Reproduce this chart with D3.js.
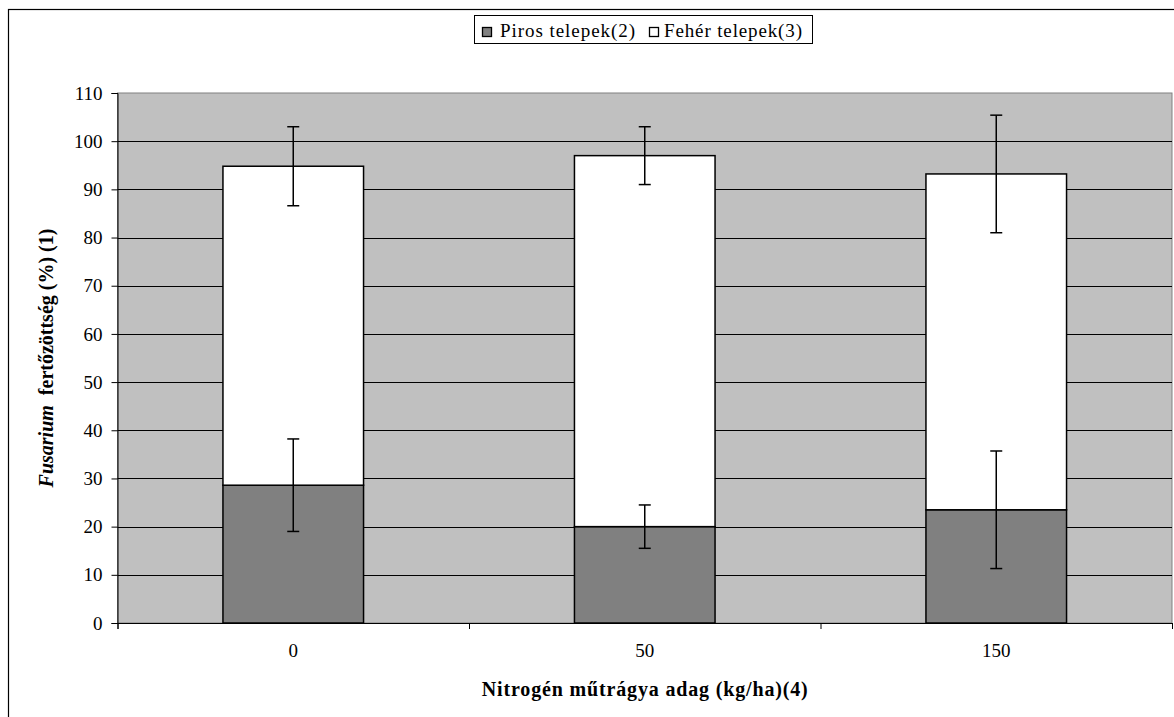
<!DOCTYPE html>
<html><head><meta charset="utf-8">
<script src="https://cdn.jsdelivr.net/npm/d3@7"></script>
<style>
body{margin:0;background:#fff;}
svg text{font-family:'Liberation Serif','Times New Roman',Tinos,'DejaVu Serif',serif !important;fill:#000;}
</style></head>
<body><svg id="c" width="1174" height="717"></svg>
<script>
const categories = ["0","50","150"];
const pirosValues = [28.6, 20.0, 23.5];
const feherValues = [66.2, 77.0, 69.7];
const pirosErrors = [9.6, 4.5, 12.2];
const feherErrors = [8.2, 6.0, 12.2];
const yTicks = [0,10,20,30,40,50,60,70,80,90,100,110];
const seriesNames = ["Piros telepek(2)", "Fehér telepek(3)"];
const seriesColors = ["#808080", "#ffffff"];

const FONT = "'Liberation Serif','Times New Roman',Tinos,'DejaVu Serif',serif";
const svg = d3.select("#c");
const L = 117.5, R = 1172, T = 93, B = 623;

// outer frame
svg.append("rect").attr("x",8.5).attr("y",9.5).attr("width",1200).attr("height",760)
  .attr("fill","#fff").attr("stroke","#000").attr("stroke-width",1.2);

const x = d3.scaleBand().domain(categories).range([L,R]).padding(0);
const y = d3.scaleLinear().domain([0,110]).range([B,T]);

// plot background
svg.append("rect").attr("x",L).attr("y",T).attr("width",R-L).attr("height",B-T)
  .attr("fill","#c0c0c0").attr("stroke","#808080").attr("stroke-width",1);

// gridlines
svg.append("g").selectAll("line").data(yTicks.filter(d=>d>0 && d<110)).join("line")
  .attr("x1",L).attr("x2",R).attr("y1",d=>Math.round(y(d))+0.5).attr("y2",d=>Math.round(y(d))+0.5)
  .attr("stroke","#000").attr("stroke-width",1);

// stacked bars
const bw = x.bandwidth()*0.4;
const stacks = categories.map((c,i)=>({c, p:pirosValues[i], f:feherValues[i], pe:pirosErrors[i], fe:feherErrors[i]}));
const g = svg.append("g");
stacks.forEach(d=>{
  const x0 = x(d.c) + (x.bandwidth()-bw)/2;
  g.append("rect").attr("x",x0).attr("width",bw)
    .attr("y",y(d.p)).attr("height",y(0)-y(d.p))
    .attr("fill",seriesColors[0]).attr("stroke","#000").attr("stroke-width",1.5);
  g.append("rect").attr("x",x0).attr("width",bw)
    .attr("y",y(d.p+d.f)).attr("height",y(d.p)-y(d.p+d.f))
    .attr("fill",seriesColors[1]).attr("stroke","#000").attr("stroke-width",1.5);
});

// error bars
function errBar(cx, v, e){
  const cap = 6;
  const eg = svg.append("g").attr("stroke","#000").attr("stroke-width",1.5);
  eg.append("line").attr("x1",cx).attr("x2",cx).attr("y1",y(v+e)).attr("y2",y(v-e));
  eg.append("line").attr("x1",cx-cap).attr("x2",cx+cap).attr("y1",y(v+e)).attr("y2",y(v+e));
  eg.append("line").attr("x1",cx-cap).attr("x2",cx+cap).attr("y1",y(v-e)).attr("y2",y(v-e));
}
stacks.forEach(d=>{
  const cx = x(d.c)+x.bandwidth()/2;
  errBar(cx, d.p, d.pe);
  errBar(cx, d.p+d.f, d.fe);
});

// y axis
const ya = svg.append("g").attr("transform",`translate(${L},0)`)
  .call(d3.axisLeft(y).tickValues(yTicks).tickSize(6).tickPadding(9))
  .attr("font-family",FONT).attr("font-size",19);
ya.select(".domain").attr("stroke","#000");
ya.selectAll(".tick line").attr("stroke","#000");
ya.selectAll("text").style("font-family",FONT).style("font-size","19px").attr("fill","#000");

// x axis boundary ticks
const xb = d3.scaleLinear().domain([0,categories.length]).range([L,R]);
const xa = svg.append("g").attr("transform",`translate(0,${B})`)
  .call(d3.axisBottom(xb).tickValues(d3.range(categories.length+1)).tickFormat("").tickSize(6));
xa.select(".domain").attr("stroke","#000");
xa.selectAll(".tick line").attr("stroke","#000");
// x labels
const xl = svg.append("g").attr("transform",`translate(0,${B})`)
  .call(d3.axisBottom(x).tickSize(0).tickPadding(21))
  .attr("font-family",FONT).attr("font-size",19);
xl.select(".domain").remove();
xl.selectAll("text").style("font-family",FONT).style("font-size","19px").attr("fill","#000");

// axis titles
svg.append("text").attr("x",(L+R)/2).attr("y",696).attr("text-anchor","middle")
  .style("font-family",FONT).style("font-size","20px").attr("font-weight","bold")
  .attr("textLength",326).attr("lengthAdjust","spacing")
  .text("Nitrogén műtrágya adag (kg/ha)(4)");

const yt = svg.append("text").attr("transform",`translate(53,${(T+B)/2}) rotate(-90)`)
  .attr("text-anchor","middle").style("font-family",FONT).style("font-size","20px").attr("font-weight","bold");
yt.append("tspan").attr("font-style","italic").text("Fusarium");
yt.append("tspan").text("\u00a0\u00a0fertőzöttség (%) (1)");

// legend
const lg = svg.append("g");
lg.append("rect").attr("x",474.5).attr("y",15.5).attr("width",338).attr("height",28)
  .attr("fill","#fff").attr("stroke","#000").attr("stroke-width",1);
const legendX = [482, 649];
const textX = [500, 664];
const textW = [135, 138];
seriesNames.forEach((n,i)=>{
  lg.append("rect").attr("x",legendX[i]+0.5).attr("y",27.5).attr("width",9).attr("height",9)
    .attr("fill",seriesColors[i]).attr("stroke","#000").attr("stroke-width",1.3);
  lg.append("text").attr("x",textX[i]).attr("y",36.5).style("font-family",FONT).style("font-size","19px")
    .attr("textLength",textW[i]).attr("lengthAdjust","spacing").text(n);
});
</script></body></html>
